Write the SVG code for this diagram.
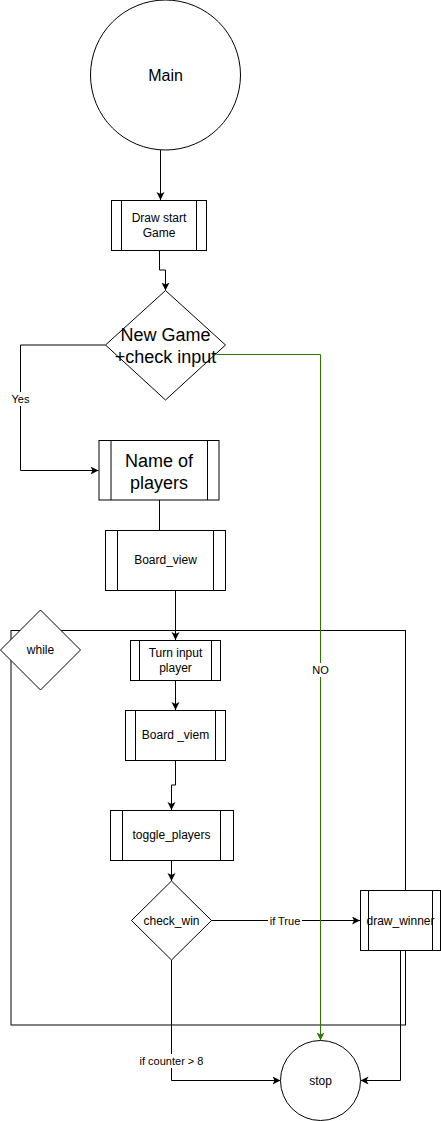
<svg xmlns="http://www.w3.org/2000/svg" width="441" height="1121" viewBox="0 0 441 1121">
<style>
.n{fill:#fff;stroke:#000;stroke-width:1}
.t{font-family:"Liberation Sans",Arial,sans-serif;fill:#000;text-anchor:middle;dominant-baseline:central}
.s12{font-size:12px}.s18{font-size:18px}.s16{font-size:16px}.s11{font-size:11px}
.c{fill:none;stroke:#000;stroke-width:1}
.g{stroke:#2D7600}
.lb{fill:#fff}
</style>
<defs>
<marker id="a" markerWidth="10" markerHeight="10" refX="8" refY="4" orient="auto" markerUnits="userSpaceOnUse">
<path d="M0,0 L8,4 L0,8 L2,4 Z" fill="#000"/>
</marker>
<marker id="ag" markerWidth="10" markerHeight="10" refX="8" refY="4" orient="auto" markerUnits="userSpaceOnUse">
<path d="M0,0 L8,4 L0,8 L2,4 Z" fill="#2D7600"/>
</marker>
</defs>
<g id="loop-container">
<rect x="11" y="630.5" width="394.5" height="394.5" fill="none" stroke="#000"/>
</g>
<g id="while">
<polygon class="n" points="40.5,610 80.5,650 40.5,690 0.5,650"/>
<text class="t s12" x="40.5" y="650">while</text>
</g>
<g id="connectors">
<path class="c" d="M160.5,150 V200" marker-end="url(#a)"/>
<path class="c" d="M159.5,250 V270 H165.5 V290.5" marker-end="url(#a)"/>
<path class="c" d="M105.5,345 H20.5 V470.5 H98.5" marker-end="url(#a)"/>
<path class="c" d="M159.5,500 V530" stroke="#808080"/>
<path class="c" d="M175.5,590.5 V640" marker-end="url(#a)"/>
<path class="c" d="M175.5,680.5 V710" marker-end="url(#a)"/>
<path class="c" d="M175.5,760.5 V785 H171.5 V810" marker-end="url(#a)"/>
<path class="c" d="M171.5,860 V881" marker-end="url(#a)"/>
<path class="c" d="M211.5,920.5 H360" marker-end="url(#a)"/>
<path class="c" d="M171.5,960 V1080.5 H280.5" marker-end="url(#a)"/>
<path class="c" d="M400.5,950 V1080.5 H360.5" marker-end="url(#a)"/>
<path class="c g" d="M216.5,354.5 H320.5 V1040.5" marker-end="url(#ag)"/>
<rect class="lb" x="10" y="392" width="21" height="14"/>
<text class="t s11" x="20.5" y="399">Yes</text>
<rect class="lb" x="311" y="663" width="19" height="14"/>
<text class="t s11" x="320.5" y="670">NO</text>
<rect class="lb" x="268" y="913" width="34" height="14"/>
<text class="t s11" x="285" y="920.5">if True</text>
<rect class="lb" x="139" y="1054" width="65" height="14"/>
<text class="t s11" x="171.5" y="1061">if counter &gt; 8</text>
</g>
<g id="main">
<circle class="n" cx="165.5" cy="75" r="75"/>
<text class="t s16" x="165.5" y="75">Main</text>
</g>
<g id="draw-start">
<rect class="n" x="111.5" y="200.5" width="95" height="50"/>
<path class="c" d="M121.5,200.5 V250.5 M196.5,200.5 V250.5"/>
<text class="t s12" x="159" y="218">Draw start</text>
<text class="t s12" x="159" y="233">Game</text>
</g>
<g id="new-game">
<polygon class="n" points="165.5,290.5 225.5,345 165.5,400 105.5,345"/>
<text class="t s18" x="165.5" y="335">New Game</text>
<text class="t s18" x="165.5" y="357">+check input</text>
</g>
<g id="name-of-players">
<rect class="n" x="99" y="440.5" width="120" height="59.5"/>
<path class="c" d="M111,440.5 V500 M207.5,440.5 V500"/>
<text class="t s18" x="159" y="461">Name of</text>
<text class="t s18" x="159" y="483">players</text>
</g>
<g id="board-view">
<rect class="n" x="105.5" y="530.5" width="120" height="60"/>
<path class="c" d="M117.5,530.5 V590.5 M213.5,530.5 V590.5"/>
<text class="t s12" x="165.5" y="560">Board_view</text>
</g>
<g id="turn-input">
<rect class="n" x="130.5" y="640.5" width="90" height="40"/>
<path class="c" d="M139.5,640.5 V680.5 M211.5,640.5 V680.5"/>
<text class="t s12" x="175.5" y="653">Turn input</text>
<text class="t s12" x="175.5" y="668">player</text>
</g>
<g id="board-viem">
<rect class="n" x="125.5" y="710.5" width="100" height="50"/>
<path class="c" d="M135.5,710.5 V760.5 M215.5,710.5 V760.5"/>
<text class="t s12" x="175.5" y="735">Board _viem</text>
</g>
<g id="toggle-players">
<rect class="n" x="110.5" y="810.5" width="123" height="50"/>
<path class="c" d="M122.5,810.5 V860.5"/>
<path class="c" d="M220.5,810.5 V860.5" stroke="#808080" stroke-width="1.5"/>
<text class="t s12" x="171.5" y="835">toggle_players</text>
</g>
<g id="check-win">
<polygon class="n" points="171.5,881 211.5,920.5 171.5,960 131.5,920.5"/>
<text class="t s12" x="171.5" y="920.5">check_win</text>
</g>
<g id="draw-winner">
<rect class="n" x="360.5" y="890.5" width="80" height="60"/>
<path class="c" d="M368.5,890.5 V950.5 M432.5,890.5 V950.5"/>
<text class="t s12" x="400.5" y="920.5">draw_winner</text>
</g>
<g id="stop">
<circle class="n" cx="320.5" cy="1080.5" r="40"/>
<text class="t s12" x="320.5" y="1080.5">stop</text>
</g>
</svg>
